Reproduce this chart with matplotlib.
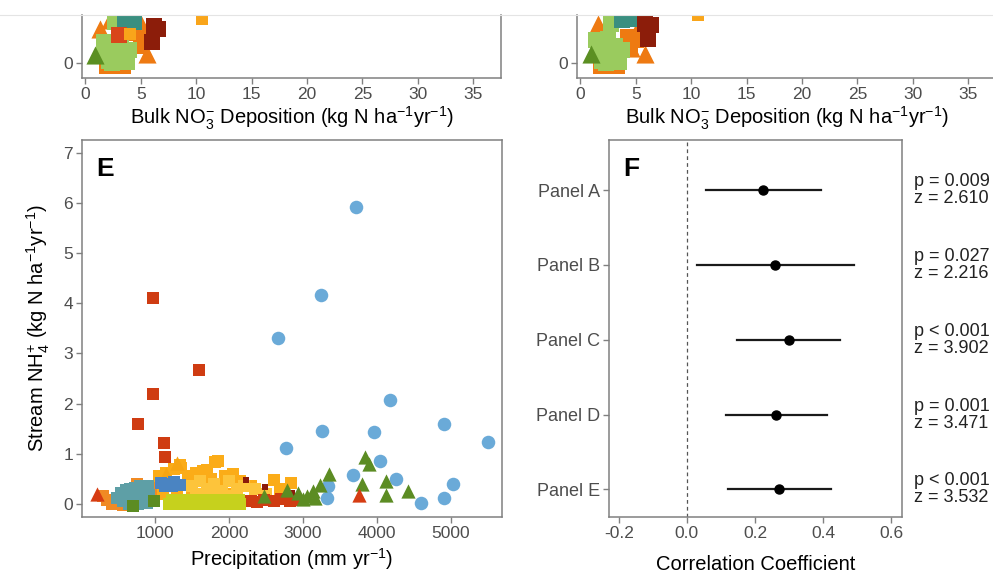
import matplotlib
matplotlib.use('Agg')
import matplotlib.pyplot as plt
from matplotlib.lines import Line2D

# fonts - arial-like sans, also inside mathtext
plt.rcParams['font.family'] = ['Liberation Sans', 'DejaVu Sans']
plt.rcParams['mathtext.fontset'] = 'custom'
plt.rcParams['mathtext.rm'] = 'Liberation Sans'
plt.rcParams['mathtext.it'] = 'Liberation Sans:italic'
plt.rcParams['mathtext.bf'] = 'Liberation Sans:bold'

# ---- panel C / D (only the bottom strip is visible) ----
c_lgreen_x = [1.65, 2.55, 1.8, 2.85, 3.9, 3.75, 2.4, 3.3, 2.7, 3.2, 2.1]
c_lgreen_y = [0.43, 0.43, 0.16, 0.16, 0.26, 0.03, 0.0, 0.63, 0.83, 0.35, 0.05]
c_orange_tri_x = [1.35, 5.55, 4.95, 2.25, 4.8, 5.3]
c_orange_tri_y = [0.69, 0.19, 0.46, 0.86, 0.86, 0.62]
c_orange_sq_x = [4.3, 5.0, 1.9, 1.95, 3.4]
c_orange_sq_y = [0.6, 0.35, 0.2, -0.05, -0.06]
c_teal_x = [3.6, 4.4]
c_teal_y = [0.86, 0.83]
c_red_x = [3.0]
c_red_y = [0.56]
c_amber_x = [4.05, 10.5]
c_amber_y = [0.59, 0.89]
c_dkred_x = [6.6, 6.2, 6.0]
c_dkred_y = [0.69, 0.74, 0.43]
c_olive_x = [0.9]
c_olive_y = [0.16]

d_lgreen_x = [1.4, 2.5, 1.85, 2.9, 3.8, 3.5, 2.3, 2.75, 3.1, 2.0]
d_lgreen_y = [0.46, 0.48, 0.19, 0.15, 0.26, 0.03, 0.0, 0.79, 0.35, 0.05]
d_orange_tri_x = [1.55, 5.8, 5.35, 4.6]
d_orange_tri_y = [0.79, 0.19, 0.79, 0.3]
d_orange_sq_x = [4.3, 5.0, 4.5, 1.9, 3.3]
d_orange_sq_y = [0.53, 0.46, 0.3, -0.05, -0.06]
d_teal_x = [3.8, 4.4]
d_teal_y = [0.86, 0.89]
d_dkred_x = [6.4, 6.1, 5.8]
d_dkred_y = [0.76, 0.49, 0.79]
d_amber_x = [10.6]
d_amber_y = [0.96]
d_olive_x = [0.95]
d_olive_y = [0.19]

# ---- panel E: precipitation vs stream NH4 ----
blue_circ_x = [3712, 3245, 2655, 4172, 3250, 3955, 4908, 5496, 2768, 4038,
               3678, 4257, 5031, 4905, 4590, 3320, 3340]
blue_circ_y = [5.92, 4.16, 3.31, 2.07, 1.45, 1.44, 1.59, 1.23, 1.11, 0.86,
               0.57, 0.50, 0.40, 0.11, 0.01, 0.11, 0.35]
red_sq_x = [970, 1590, 970, 766, 1113, 1130, 2290, 2380, 2470, 2600, 2700, 2820, 2900]
red_sq_y = [4.10, 2.67, 2.19, 1.60, 1.21, 0.93, 0.06, 0.04, 0.08, 0.05, 0.10, 0.06, 0.08]
dkred_sq_x = [2230, 2490, 2850]
dkred_sq_y = [0.48, 0.33, 0.22]
red_tri_x = [210, 3760]
red_tri_y = [0.20, 0.17]
green_tri_x = [2465, 2780, 2935, 3050, 3140, 3230, 3345, 3835, 3885, 3790,
               4125, 4125, 4425, 3160, 3000]
green_tri_y = [0.15, 0.28, 0.22, 0.15, 0.25, 0.38, 0.60, 0.93, 0.80, 0.40,
               0.46, 0.17, 0.25, 0.12, 0.10]
teal_sq_x = [480, 540, 600, 660, 720, 780, 840, 900, 560, 620, 680, 740,
             800, 860, 920, 650, 710, 770, 830, 890, 600, 700, 800, 900]
teal_sq_y = [0.12, 0.22, 0.28, 0.30, 0.32, 0.30, 0.33, 0.35, 0.05, 0.10, 0.18, 0.22,
             0.15, 0.22, 0.18, 0.00, 0.05, 0.00, 0.05, 0.02, 0.15, 0.25, 0.35, 0.30]
orange_sq_x = [300, 350, 420, 480, 560, 760, 1000, 1050, 980]
orange_sq_y = [0.15, 0.08, 0.00, 0.02, -0.02, 0.40, 0.35, 0.55, 0.15]
amber_sq_x = [1050, 1150, 1250, 1350, 1450, 1550, 1650, 1750, 1850, 1950, 2050, 1100, 1300,
              1500, 1700, 1900, 2000, 1810, 1560, 1340, 1700, 2150, 2290, 2600, 2830, 2690]
amber_sq_y = [0.55, 0.62, 0.70, 0.72, 0.55, 0.62, 0.66, 0.50, 0.86, 0.55, 0.60, 0.20, 0.25,
              0.30, 0.25, 0.35, 0.20, 0.84, 0.60, 0.78, 0.68, 0.45, 0.35, 0.48, 0.41, 0.30]
yellow_sq_x = [1500, 1600, 1700, 1800, 1900, 2000, 2100, 2200, 1650, 1850, 2050, 1550, 2350, 2500]
yellow_sq_y = [0.35, 0.45, 0.30, 0.40, 0.25, 0.45, 0.30, 0.35, 0.20, 0.18, 0.15, 0.15, 0.30, 0.20]
orange_tri_x = [1300, 1150]
orange_tri_y = [0.82, 0.60]
ygreen_sq_x = [1180, 1280, 1380, 1480, 1580, 1680, 1780, 1880, 1980, 2080, 2150,
               1230, 1330, 1430, 1530, 1630, 1730, 1830, 1930, 2030, 2130]
ygreen_sq_y = [0.00, 0.00, 0.00, 0.00, 0.00, 0.00, 0.00, 0.00, 0.00, 0.00, 0.00,
               0.08, 0.08, 0.08, 0.08, 0.08, 0.08, 0.08, 0.08, 0.08, 0.08]
dkgreen_sq_x = [700, 980]
dkgreen_sq_y = [-0.05, 0.05]
blue_sq_x = [1080, 1170, 1260, 1330, 1130, 1230]
blue_sq_y = [0.42, 0.40, 0.43, 0.37, 0.35, 0.36]

# ---- panel F: correlation coefficients ----
panels = ['Panel A', 'Panel B', 'Panel C', 'Panel D', 'Panel E']
r_est = [0.224, 0.260, 0.299, 0.263, 0.272]
r_lo = [0.056, 0.030, 0.148, 0.115, 0.121]
r_hi = [0.393, 0.491, 0.450, 0.413, 0.423]
p_txt = ['p = 0.009', 'p = 0.027', 'p < 0.001', 'p = 0.001', 'p < 0.001']
z_txt = ['z = 2.610', 'z = 2.216', 'z = 3.902', 'z = 3.471', 'z = 3.532']

W, H = 993, 576
spine_col = '#808080'
tick_col = '#4d4d4d'
SQ, TRI, CIR = 76, 105, 95
SQ_TOP, TRI_TOP = 120, 170


def px_axes(l, r, top, bot):
    # pixel box -> figure fraction
    return fig.add_axes([l / W, 1 - bot / H, (r - l) / W, (bot - top) / H])


def style(ax):
    for s in ax.spines.values():
        s.set_color(spine_col)
        s.set_linewidth(1.1)
    ax.tick_params(colors=spine_col, labelcolor=tick_col, labelsize=12.5,
                   length=4, width=1.0, pad=2.5)


fig = plt.figure(figsize=(W / 100, H / 100), dpi=100)

# top strip panels
top_specs = [
    (82, 501, dict(lg=(c_lgreen_x, c_lgreen_y), ot=(c_orange_tri_x, c_orange_tri_y),
                   os=(c_orange_sq_x, c_orange_sq_y), te=(c_teal_x, c_teal_y),
                   rd=(c_red_x, c_red_y), am=(c_amber_x, c_amber_y),
                   dk=(c_dkred_x, c_dkred_y), ol=(c_olive_x, c_olive_y))),
    (577, 996, dict(lg=(d_lgreen_x, d_lgreen_y), ot=(d_orange_tri_x, d_orange_tri_y),
                    os=(d_orange_sq_x, d_orange_sq_y), te=(d_teal_x, d_teal_y),
                    rd=([], []), am=(d_amber_x, d_amber_y),
                    dk=(d_dkred_x, d_dkred_y), ol=(d_olive_x, d_olive_y))),
]
for l, r, d in top_specs:
    ax = px_axes(l, r, 15, 78)
    style(ax)
    ax.spines['top'].set_visible(False)
    ax.scatter(*d['os'], marker='s', s=SQ_TOP, color='#ee7a12', lw=0)
    ax.scatter(*d['ot'], marker='^', s=TRI_TOP, color='#ee7a12', lw=0)
    ax.scatter(*d['lg'], marker='s', s=SQ_TOP, color='#9acb5e', lw=0)
    ax.scatter(*d['te'], marker='s', s=SQ_TOP, color='#3a8f80', lw=0)
    ax.scatter(*d['rd'], marker='s', s=SQ_TOP, color='#d9461b', lw=0)
    ax.scatter(*d['am'], marker='s', s=SQ, color='#f9a51a', lw=0)
    ax.scatter(*d['dk'], marker='s', s=SQ_TOP, color='#8c1d0a', lw=0)
    ax.scatter(*d['ol'], marker='^', s=TRI_TOP, color='#5b8f22', lw=0)
    ax.set_xlim(-0.3, 37.5)
    ax.set_ylim(-0.3, 0.96)
    ax.set_xticks([0, 5, 10, 15, 20, 25, 30, 35])
    ax.set_yticks([0])
    ax.set_xlabel('Bulk NO$_3^{-}$ Deposition (kg N ha$^{-1}$yr$^{-1}$)',
                  fontsize=14.5, labelpad=2)

# faint crop line across the top
fig.add_artist(Line2D([0, 1], [1 - 15 / H] * 2, color='#e4e4e4', lw=0.8))

# panel E
axE = px_axes(82, 502, 140, 517)
style(axE)
axE.scatter(orange_sq_x, orange_sq_y, marker='s', s=SQ, color='#f08a24', lw=0)
axE.scatter(amber_sq_x, amber_sq_y, marker='s', s=SQ, color='#fbac18', lw=0)
axE.scatter(yellow_sq_x, yellow_sq_y, marker='s', s=SQ, color='#fdc43b', lw=0)
axE.scatter(orange_tri_x, orange_tri_y, marker='^', s=TRI, color='#f7a512', lw=0)
axE.scatter(red_sq_x, red_sq_y, marker='s', s=SQ, color='#cf3c12', lw=0)
axE.scatter(dkred_sq_x, dkred_sq_y, marker='s', s=25, color='#8b1a0a', lw=0)
axE.scatter(teal_sq_x, teal_sq_y, marker='s', s=SQ, color='#5e9fa6', lw=0)
axE.scatter(ygreen_sq_x, ygreen_sq_y, marker='s', s=SQ, color='#c6d11d', lw=0)
axE.scatter(dkgreen_sq_x, dkgreen_sq_y, marker='s', s=SQ, color='#5c8c23', lw=0)
axE.scatter(blue_sq_x, blue_sq_y, marker='s', s=SQ, color='#4a84c2', lw=0)
axE.scatter(blue_circ_x, blue_circ_y, marker='o', s=CIR, color='#6aaad8', lw=0)
axE.scatter(green_tri_x, green_tri_y, marker='^', s=TRI, color='#5c8c23', lw=0)
axE.scatter(red_tri_x, red_tri_y, marker='^', s=TRI, color='#d63c12', lw=0)
axE.set_xlim(10, 5690)
axE.set_ylim(-0.26, 7.25)
axE.set_xticks([1000, 2000, 3000, 4000, 5000])
axE.set_yticks(range(0, 8))
axE.set_xlabel('Precipitation (mm yr$^{-1}$)', fontsize=14.5, labelpad=4)
axE.set_ylabel('Stream NH$_4^{+}$ (kg N ha$^{-1}$yr$^{-1}$)', fontsize=14.5, labelpad=8)
axE.text(0.035, 0.955, 'E', transform=axE.transAxes, fontsize=19,
         fontweight='bold', va='top', ha='left')

# panel F
axF = px_axes(609, 902, 140, 517)
style(axF)
ypos = [5, 4, 3, 2, 1]
axF.axvline(0, color='#555555', lw=0.9, ls=(0, (3, 2.5)))
for y, est, lo, hi in zip(ypos, r_est, r_lo, r_hi):
    axF.plot([lo, hi], [y, y], color='#1a1a1a', lw=1.6)
    axF.plot(est, y, 'o', color='black', markersize=6.5)
for y, p, z in zip(ypos, p_txt, z_txt):
    axF.text(1.04, y, p + '\n' + z, transform=axF.get_yaxis_transform(),
             fontsize=13, color='#222222', va='center', ha='left', linespacing=1.0)
axF.set_xlim(-0.229, 0.632)
axF.set_ylim(0.63, 5.67)
axF.set_xticks([-0.2, 0.0, 0.2, 0.4, 0.6])
axF.set_xticklabels(['-0.2', '0.0', '0.2', '0.4', '0.6'])
axF.set_yticks(ypos)
axF.set_yticklabels(panels, fontsize=13)
axF.set_xlabel('Correlation Coefficient', fontsize=14.5, labelpad=10)
axF.text(0.05, 0.955, 'F', transform=axF.transAxes, fontsize=19,
         fontweight='bold', va='top', ha='left')

fig.savefig('out.png', dpi=100)
